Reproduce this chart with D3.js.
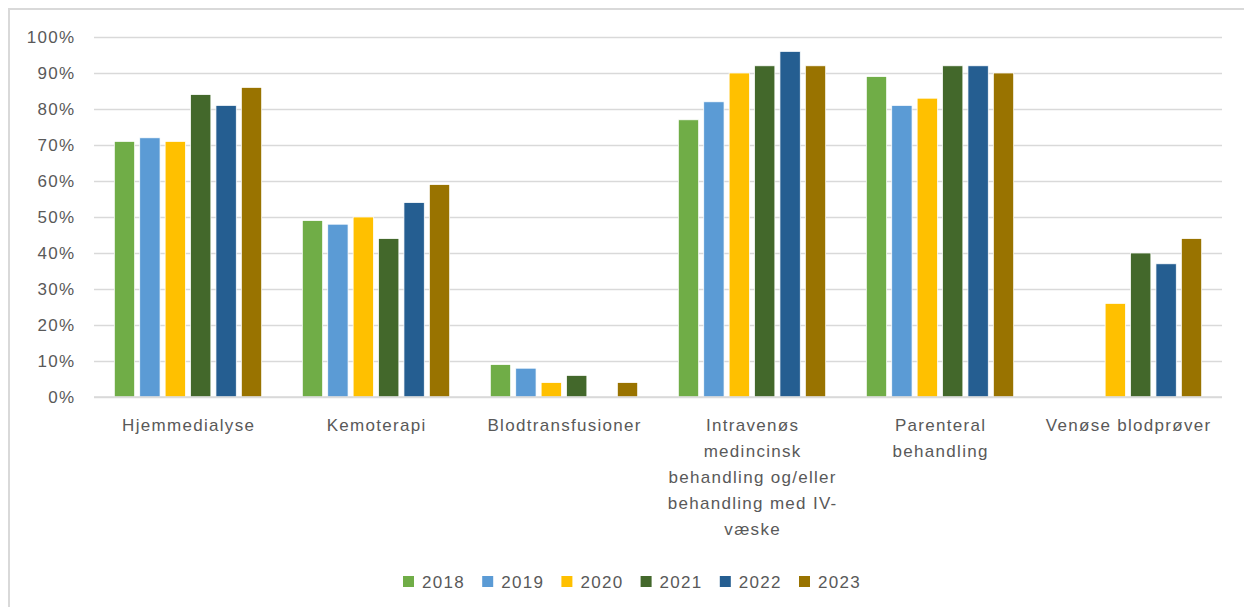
<!DOCTYPE html>
<html><head><meta charset="utf-8">
<script src="https://cdn.jsdelivr.net/npm/d3@7"></script>
<style>body{margin:0;background:#fff;}svg{display:block;font-family:"Liberation Sans",Arial,sans-serif;}</style>
</head><body>
<svg id="chart" width="1244" height="607"></svg>
<script>
const categories = [
  ["Hjemmedialyse"],
  ["Kemoterapi"],
  ["Blodtransfusioner"],
  ["Intravenøs", "medincinsk", "behandling og/eller", "behandling med IV-", "væske"],
  ["Parenteral", "behandling"],
  ["Venøse blodprøver"]
];
const years = ["2018", "2019", "2020", "2021", "2022", "2023"];
const v2018 = [71, 49, 9, 77, 89, null];
const v2019 = [72, 48, 8, 82, 81, null];
const v2020 = [71, 50, 4, 90, 83, 26];
const v2021 = [84, 44, 6, 92, 92, 40];
const v2022 = [81, 54, null, 96, 92, 37];
const v2023 = [86, 59, 4, 92, 90, 44];
const seriesValues = [v2018, v2019, v2020, v2021, v2022, v2023];
const colors = ["#70ad47", "#5b9bd5", "#ffc000", "#43682b", "#255e91", "#997300"];
const yTicks = [0, 10, 20, 30, 40, 50, 60, 70, 80, 90, 100];

const svg = d3.select("#chart");
const mLeft = 94, mRight = 1222, mTop = 37, mBottom = 397;
const textColor = "#595959";
const fontSize = 17, spacing = 1.3;

// outer border (left and top visible)
svg.append("line").attr("x1", 9).attr("x2", 9).attr("y1", 9).attr("y2", 607).attr("stroke", "#d9d9d9").attr("stroke-width", 2);
svg.append("line").attr("x1", 8).attr("x2", 1244).attr("y1", 9).attr("y2", 9).attr("stroke", "#d9d9d9").attr("stroke-width", 2);

const x0 = d3.scaleBand().domain(d3.range(categories.length)).range([mLeft, mRight]).paddingInner(0).paddingOuter(0);
const x1 = d3.scaleBand().domain(d3.range(years.length)).range([0, x0.bandwidth()]).paddingInner(0.2).paddingOuter(0.8);
const y = d3.scaleLinear().domain([0, 100]).range([mBottom, mTop]);

// gridlines
const yAxis = d3.axisLeft(y).tickValues(yTicks).tickFormat(d => d + "%").tickSize(-(mRight - mLeft)).tickPadding(20);
const gy = svg.append("g").attr("transform", `translate(${mLeft},0)`).call(yAxis);
gy.select(".domain").remove();
gy.selectAll(".tick line").attr("stroke", "#d9d9d9").attr("stroke-width", 1.5);
gy.selectAll(".tick text").attr("fill", textColor).attr("font-size", fontSize)
  .attr("letter-spacing", spacing).attr("dx", spacing)
  .attr("font-family", "Liberation Sans, Arial, sans-serif");

// bars
const groups = svg.append("g").selectAll("g").data(categories).join("g")
  .attr("transform", (d, i) => `translate(${x0(i)},0)`);
groups.each(function(c, ci) {
  const g = d3.select(this);
  years.forEach((yr, si) => {
    const v = seriesValues[si][ci];
    if (v == null) return;
    g.append("rect")
      .attr("x", x1(si)).attr("width", x1.bandwidth())
      .attr("y", y(v)).attr("height", y(0) - y(v))
      .attr("fill", colors[si]).attr("stroke", "#fff").attr("stroke-width", 0.75);
  });
});

// x axis line
svg.append("line").attr("x1", mLeft).attr("x2", mRight).attr("y1", mBottom).attr("y2", mBottom).attr("stroke", "#d9d9d9").attr("stroke-width", 1.5);

// category labels
const xl = svg.append("g").selectAll("text").data(categories).join("text")
  .attr("x", (d, i) => x0(i) + x0.bandwidth() / 2 + spacing / 2)
  .attr("y", 431)
  .attr("text-anchor", "middle").attr("fill", textColor).attr("font-size", fontSize).attr("letter-spacing", spacing);
xl.selectAll("tspan").data(d => d).join("tspan")
  .attr("x", function() { return d3.select(this.parentNode).attr("x"); })
  .attr("dy", (d, i) => i === 0 ? 0 : 26)
  .text(d => d);

// legend
const legend = svg.append("g").selectAll("g").data(years).join("g")
  .attr("transform", (d, i) => `translate(${403 + i * 79.2},0)`);
legend.append("rect").attr("x", 0).attr("y", 576).attr("width", 11).attr("height", 11).attr("fill", (d, i) => colors[i]);
legend.append("text").attr("x", 19).attr("y", 588).attr("fill", textColor).attr("font-size", fontSize).attr("letter-spacing", spacing).text(d => d);
</script>
</body></html>
